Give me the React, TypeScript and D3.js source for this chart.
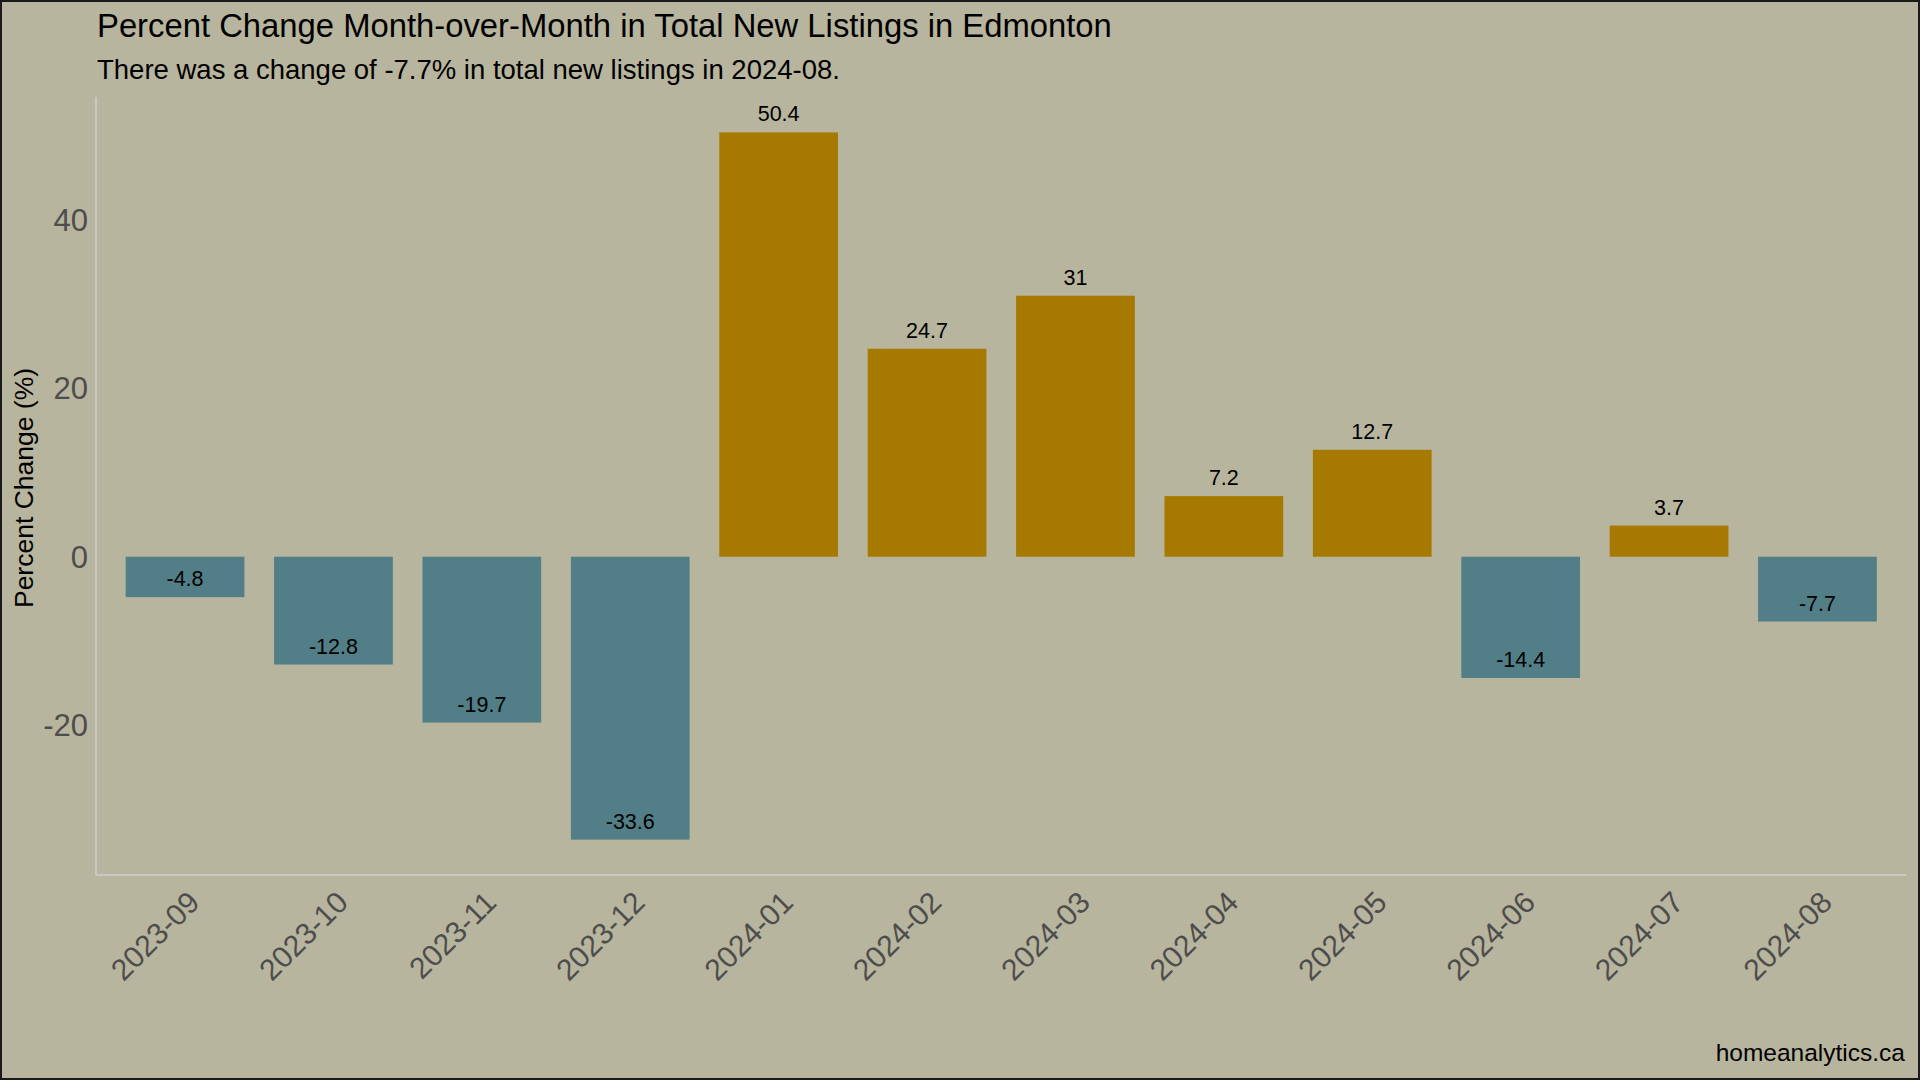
import React from "react";
import * as d3 from "d3";

const months = ["2023-09", "2023-10", "2023-11", "2023-12", "2024-01", "2024-02", "2024-03", "2024-04", "2024-05", "2024-06", "2024-07", "2024-08"];
const pctChange = [-4.8, -12.8, -19.7, -33.6, 50.4, 24.7, 31, 7.2, 12.7, -14.4, 3.7, -7.7];
const yTicks = [-20, 0, 20, 40];

const W = 1920;
const H = 1080;
const panel = { left: 96, right: 1906.5, top: 97, bottom: 875 };
const FONT = "'Liberation Sans', Arial, Helvetica, sans-serif";
const BG = "#B8B59E";
const UP = "#A67A00";
const DOWN = "#527E87";

function App() {
    // ggplot-style 5% expansion on the continuous axis
    const lo = d3.min(pctChange) as number;
    const hi = d3.max(pctChange) as number;
    const pad = (hi - lo) * 0.05;

    const x = d3.scalePoint<string>()
        .domain(months)
        .range([panel.left, panel.right])
        .padding(0.6);
    const bw = x.step() * 0.8;

    const y = d3.scaleLinear()
        .domain([lo - pad, hi + pad])
        .range([panel.bottom, panel.top]);

    return (
        <svg width={W} height={H} style={{ position: "absolute", left: 0, top: 0, fontFamily: FONT }}>
            <rect x={0} y={0} width={W} height={H} fill={BG} />
            <rect x={1} y={1} width={W - 2} height={H - 2} fill="none" stroke="#1a1a1a" strokeWidth={2} />

            {/* title */}
            <text x={97} y={37} fontSize={32.8} fill="#000">
                Percent Change Month-over-Month in Total New Listings in Edmonton
            </text>
            <text x={97} y={79} fontSize={27.5} fill="#000">
                There was a change of -7.7% in total new listings in 2024-08.
            </text>

            {/* axes lines */}
            <line x1={panel.left} x2={panel.left} y1={panel.top} y2={panel.bottom} stroke="#C8C8C4" strokeWidth={2} />
            <line x1={panel.left} x2={panel.right} y1={panel.bottom} y2={panel.bottom} stroke="#C8C8C4" strokeWidth={2} />

            {/* bars */}
            {months.map((m, i) => {
                const v = pctChange[i];
                const y0 = y(0);
                const y1 = y(v);
                return (
                    <g key={m}>
                        <rect
                            x={(x(m) as number) - bw / 2}
                            y={Math.min(y0, y1)}
                            width={bw}
                            height={Math.abs(y1 - y0)}
                            fill={v >= 0 ? UP : DOWN}
                        />
                        <text x={x(m)} y={y1 - 11} textAnchor="middle" fontSize={21.5} fill="#000">
                            {String(v)}
                        </text>
                    </g>
                );
            })}

            {/* y ticks */}
            {yTicks.map(t => (
                <text key={t} x={88} y={y(t)} dy="0.36em" textAnchor="end" fontSize={31} fill="#4D4D4D">
                    {t}
                </text>
            ))}

            {/* x ticks */}
            {months.map(m => (
                <text
                    key={m}
                    transform={`translate(${x(m) + 1},${panel.bottom + 14}) rotate(-45)`}
                    dy="0.72em"
                    textAnchor="end"
                    fontSize={30}
                    fill="#4D4D4D"
                >
                    {m}
                </text>
            ))}

            {/* axis title */}
            <text
                transform={`translate(33,${(panel.top + panel.bottom) / 2 + 2}) rotate(-90)`}
                textAnchor="middle"
                fontSize={26.5}
                fill="#000"
            >
                Percent Change (%)
            </text>

            <text x={1905} y={1061} textAnchor="end" fontSize={24.5} fill="#000">
                homeanalytics.ca
            </text>
        </svg>
    );
}

export default App;
